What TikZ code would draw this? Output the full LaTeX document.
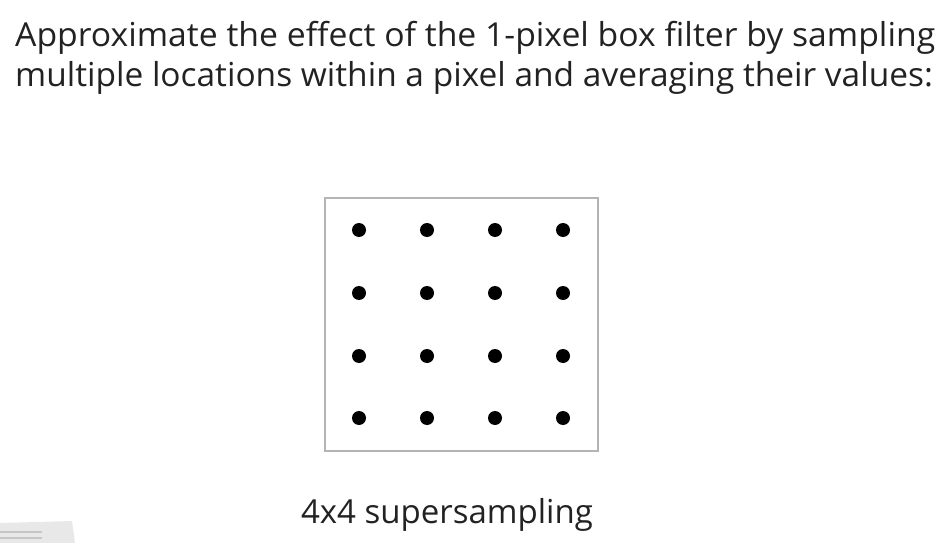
\documentclass[tikz,border=0pt]{standalone}
\usepackage{fontspec}
\setmainfont[Ligatures=NoCommon]{Open Sans}
\usepackage{tikz}
\definecolor{boxgray}{HTML}{B4B4B4}
\definecolor{inkblack}{HTML}{222222}
\tikzset{slidetext/.style={inner sep=0, text=inkblack, font=\fontsize{33}{40}\selectfont}}

\begin{document}
\begin{tikzpicture}[x=1pt, y=-1pt]
	\useasboundingbox (0, 0) rectangle (946, 543);
	\coordinate (nw) at (325, 198);
	\coordinate (se) at (598, 451);
	\draw[boxgray, line width=1.3pt] (nw) rectangle (se);
	%
	\fill (359, 230) circle (7);
	\fill (427, 230) circle (7);
	\fill (495, 230) circle (7);
	\fill (563, 230) circle (7);
	\fill (359, 293) circle (7);
	\fill (427, 293) circle (7);
	\fill (495, 293) circle (7);
	\fill (563, 293) circle (7);
	\fill (359, 356) circle (7);
	\fill (427, 356) circle (7);
	\fill (495, 356) circle (7);
	\fill (563, 356) circle (7);
	\fill (359, 418) circle (7);
	\fill (427, 418) circle (7);
	\fill (495, 418) circle (7);
	\fill (563, 418) circle (7);
	%
	\fill[gray!18] (0, 523) -- (72, 521) -- (75, 543) -- (0, 543) -- cycle;
	\draw[gray!45, line width=1.5pt] (0, 532) -- (42, 532);
	\draw[gray!45, line width=1.5pt] (0, 538) -- (42, 538);
	%
	\node[slidetext, anchor=base west] (title1) at (15, 47) {\scalebox{1.022}[1]{Approximate the effect of the 1-pixel box filter by sampling}};
	\node[slidetext, anchor=base west] (title2) at (15, 87) {\scalebox{1.014}[1]{multiple locations within a pixel and averaging their values:}};
	\node[slidetext, anchor=base] (caption) at (447, 523) {4x4 supersampling};
\end{tikzpicture}
\end{document}
